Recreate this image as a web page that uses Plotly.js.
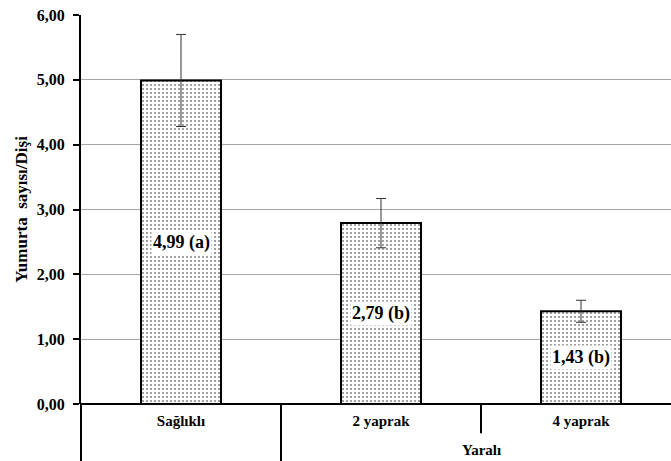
<!DOCTYPE html>
<html><head><meta charset="utf-8">
<script src="https://cdn.plot.ly/plotly-3.0.1.min.js"></script>
<style>html,body{margin:0;padding:0;background:#fff}</style>
</head><body>
<div id="chart" style="width:671px;height:461px"></div>
<script>
const categories = ["Sağlıklı", "2 yaprak", "4 yaprak"];
const groupLabel = "Yaralı";
const values = [4.99, 2.79, 1.43];
const errors = [0.71, 0.38, 0.17];
const letters = ["a", "b", "b"];
const yTicks = [0, 1, 2, 3, 4, 5, 6];

const fam = "Liberation Serif, Tinos, DejaVu Serif, serif";
const font = {family: fam, color: "#000"};
const xIdx = categories.map((c, i) => i);

const trace = {
  type: "bar",
  x: xIdx,
  y: values,
  width: 0.4,
  marker: {
    color: "#fff",
    line: {color: "#000", width: 2},
    pattern: {shape: ".", fgcolor: "#8a8a8a", bgcolor: "#fff", size: 4, solidity: 0.22}
  },
  error_y: {type: "data", array: errors, visible: true, color: "#333", thickness: 1, width: 5},
  hoverinfo: "skip"
};

const annotations = values.map((v, i) => ({
  x: i, y: v / 2, xref: "x", yref: "y",
  text: "<b>" + v.toFixed(2).replace(".", ",") + " (" + letters[i] + ")</b>",
  showarrow: false, bgcolor: "#fff", borderpad: 1,
  font: {family: fam, color: "#000", size: 18}
}));
annotations.push({
  x: 1.5, y: -0.118, xref: "x", yref: "paper", yanchor: "middle",
  text: "<b>" + groupLabel + "</b>", showarrow: false,
  font: {family: fam, color: "#000", size: 15}
});

const shapes = [
  {type: "line", xref: "paper", yref: "paper", x0: 0, x1: 0, y0: 0, y1: -0.2, line: {color: "#000", width: 2}},
  {type: "line", xref: "x", yref: "paper", x0: 0.5, x1: 0.5, y0: 0, y1: -0.2, line: {color: "#000", width: 2}},
  {type: "line", xref: "x", yref: "paper", x0: 1.5, x1: 1.5, y0: 0, y1: -0.075, line: {color: "#000", width: 2}}
];

const layout = {
  width: 671, height: 461,
  margin: {l: 81, r: 0, t: 15, b: 57, pad: 0},
  paper_bgcolor: "#fff", plot_bgcolor: "#fff",
  separators: ",.",
  showlegend: false,
  font: font,
  xaxis: {
    range: [-0.5, 2.45],
    tickvals: xIdx,
    ticktext: categories.map(c => "<b>" + c + "</b>"),
    tickfont: {family: fam, color: "#000", size: 15},
    ticklabelstandoff: 6,
    ticks: "", showgrid: false, zeroline: false,
    showline: false, fixedrange: true
  },
  yaxis: {
    range: [0, 6],
    tickvals: yTicks,
    tickformat: ".2f",
    tickfont: {family: fam, color: "#000", size: 16, weight: "bold"},
    ticklabelstandoff: 5,
    ticks: "outside", ticklen: 6, tickwidth: 2, tickcolor: "#000",
    showline: true, linecolor: "#000", linewidth: 2,
    showgrid: true, gridcolor: "#a6a6a6", gridwidth: 1,
    zeroline: true, zerolinecolor: "#000", zerolinewidth: 2,
    title: {text: "<b>Yumurta\u00a0 sayısı/Dişi</b>", font: {family: fam, color: "#000", size: 17}, standoff: 5},
    fixedrange: true
  },
  annotations: annotations,
  shapes: shapes
};

Plotly.newPlot("chart", [trace], layout, {displayModeBar: false, staticPlot: true});
</script>
</body></html>
